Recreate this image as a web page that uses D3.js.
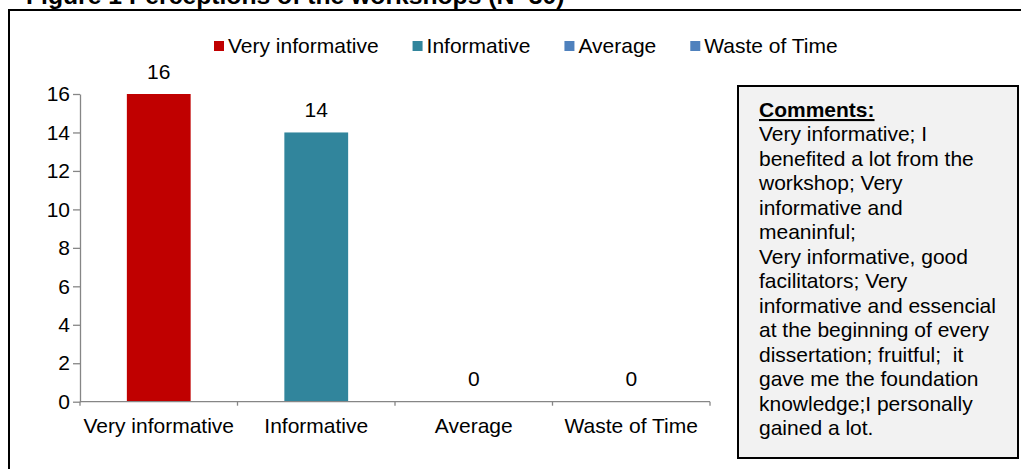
<!DOCTYPE html>
<html>
<head>
<meta charset="utf-8">
<script src="https://cdn.jsdelivr.net/npm/d3@7"></script>
<style>
  html, body { margin: 0; padding: 0; background: #ffffff; }
  svg { display: block; font-family: "Liberation Sans", Arial, sans-serif; }
</style>
</head>
<body>
<svg id="chart" width="1021" height="469"></svg>
<script>
// Workshop perception counts
const categories = ["Very informative", "Informative", "Average", "Waste of Time"];
const counts = [16, 14, 0, 0];
const seriesColors = ["#C00000", "#31859C", "#4F81BD", "#4F81BD"];
const yTicks = [0, 2, 4, 6, 8, 10, 12, 14, 16];
const titleText = "Figure 1 Perceptions of the workshops (N=30)";
const commentLines = [
  "Very informative; I",
  "benefited a lot from the",
  "workshop; Very",
  "informative and",
  "meaninful;",
  "Very informative, good",
  "facilitators; Very",
  "informative and essencial",
  "at the beginning of every",
  "dissertation; fruitful;  it",
  "gave me the foundation",
  "knowledge;I personally",
  "gained a lot."
];

const svg = d3.select("#chart");
const axisColor = "#868686";
const fontSize = 21;

// Figure title (sits at the very top of the page)
svg.append("text")
  .attr("x", 26).attr("y", 4)
  .attr("font-size", 24.7).attr("font-weight", "bold")
  .attr("fill", "#000")
  .text(titleText);

// Outer frame
svg.append("rect")
  .attr("x", 9).attr("y", 10)
  .attr("width", 1040).attr("height", 500)
  .attr("fill", "none").attr("stroke", "#000").attr("stroke-width", 2);

// Scales
const x = d3.scaleBand().domain(categories).range([80, 710]).padding(0);
const y = d3.scaleLinear().domain([0, 16]).range([401.7, 94]);

// Y axis
const yAxis = svg.append("g")
  .attr("transform", "translate(80,0)")
  .call(d3.axisLeft(y).tickValues(yTicks).tickSize(7).tickSizeOuter(0).tickPadding(3));
yAxis.select(".domain").attr("stroke", axisColor).attr("stroke-width", 1.3);
yAxis.selectAll(".tick line").attr("stroke", axisColor).attr("stroke-width", 1.3);
yAxis.selectAll(".tick text")
  .attr("font-size", fontSize).attr("fill", "#000")
  .attr("font-family", "Liberation Sans, Arial, sans-serif");

// Bars
const barFrac = 0.405;
svg.append("g").selectAll("rect")
  .data(categories)
  .join("rect")
  .attr("x", d => x(d) + x.bandwidth() * (1 - barFrac) / 2)
  .attr("width", x.bandwidth() * barFrac)
  .attr("y", (d, i) => y(counts[i]))
  .attr("height", (d, i) => y(0) - y(counts[i]))
  .attr("fill", (d, i) => seriesColors[i]);

// X axis: category labels
const xAxis = svg.append("g")
  .attr("transform", `translate(0,${y(0)})`)
  .call(d3.axisBottom(x).tickSize(0).tickPadding(16.5));
xAxis.select(".domain").remove();
xAxis.selectAll(".tick text")
  .attr("font-size", fontSize).attr("fill", "#000")
  .attr("font-family", "Liberation Sans, Arial, sans-serif");

// X axis baseline and category boundary ticks
svg.append("line")
  .attr("x1", x.range()[0]).attr("x2", x.range()[1])
  .attr("y1", y(0)).attr("y2", y(0))
  .attr("stroke", axisColor).attr("stroke-width", 1.3);
const boundaries = categories.map(d => x(d)).concat([x.range()[1]]);
svg.append("g").selectAll("line")
  .data(boundaries)
  .join("line")
  .attr("x1", d => d).attr("x2", d => d)
  .attr("y1", y(0)).attr("y2", y(0) + 4)
  .attr("stroke", axisColor).attr("stroke-width", 1.3);

// Value labels
svg.append("g").selectAll("text")
  .data(categories)
  .join("text")
  .attr("x", d => x(d) + x.bandwidth() / 2)
  .attr("y", (d, i) => y(counts[i]) - 15.5)
  .attr("text-anchor", "middle")
  .attr("font-size", fontSize).attr("fill", "#000")
  .text((d, i) => counts[i]);

// Legend
const legend = svg.append("g");
let lx = 214;
categories.forEach((c, i) => {
  legend.append("rect")
    .attr("x", lx).attr("y", 41)
    .attr("width", 10).attr("height", 10)
    .attr("fill", seriesColors[i]);
  const t = legend.append("text")
    .attr("x", lx + 14).attr("y", 53)
    .attr("font-size", fontSize).attr("fill", "#000")
    .text(c);
  lx += 14 + t.node().getComputedTextLength() + 34;
});

// Comments box
const box = svg.append("g");
box.append("rect")
  .attr("x", 738).attr("y", 86)
  .attr("width", 280).attr("height", 372)
  .attr("fill", "#F2F2F2").attr("stroke", "#000").attr("stroke-width", 2);
box.append("text")
  .attr("x", 759).attr("y", 117)
  .attr("font-size", fontSize).attr("font-weight", "bold")
  .attr("text-decoration", "underline").attr("fill", "#000")
  .text("Comments:");
box.append("g").selectAll("text")
  .data(commentLines)
  .join("text")
  .attr("x", 759)
  .attr("y", (d, i) => 117 + (i + 1) * 24.46)
  .attr("font-size", fontSize).attr("fill", "#000")
  .style("white-space", "pre")
  .text(d => d);
</script>
</body>
</html>
